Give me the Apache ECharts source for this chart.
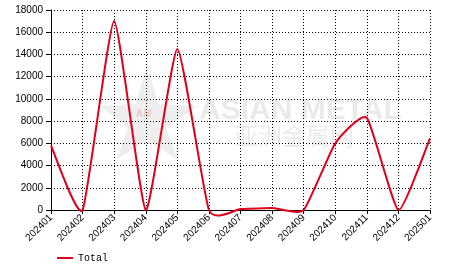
<!DOCTYPE html>
<html>
<head>
<meta charset="utf-8">
<style>html,body{margin:0;padding:0;background:#fff;}#c{width:466px;height:272px;}</style>
<script src="https://cdn.jsdelivr.net/npm/echarts@6/dist/echarts.min.js"></script>
</head>
<body>
<div id="c"></div>
<script>
var categories = ['202401','202402','202403','202404','202405','202406','202407','202408','202409','202410','202411','202412','202501'];
var totalValues = [5800, 0, 17000, 0, 14500, 0, 80, 180, 0, 6000, 8300, 0, 6450];
var seriesName = 'Total';
var yMin = 0, yMax = 18000, yStep = 2000;

var lineColor = '#e0001b';
var tension = 0.08;

function renderSpline(params, api) {
  if (params.dataIndex !== 0) return null;
  var pts = [];
  for (var j = 0; j < totalValues.length; j++) {
    pts.push(api.coord([j, totalValues[j]]));
  }
  var n = pts.length;
  var d = 'M' + pts[0][0] + ' ' + pts[0][1];
  for (var i = 0; i < n - 1; i++) {
    var p0 = pts[Math.max(i - 1, 0)], p1 = pts[i], p2 = pts[i + 1], p3 = pts[Math.min(i + 2, n - 1)];
    var c1x = p1[0] + (p2[0] - p0[0]) * tension, c1y = p1[1] + (p2[1] - p0[1]) * tension;
    var c2x = p2[0] - (p3[0] - p1[0]) * tension, c2y = p2[1] - (p3[1] - p1[1]) * tension;
    d += ' C' + c1x + ' ' + c1y + ' ' + c2x + ' ' + c2y + ' ' + p2[0] + ' ' + p2[1];
  }
  return {
    type: 'path',
    shape: {pathData: d},
    style: {fill: 'none', stroke: lineColor, lineWidth: 2, lineJoin: 'round'}
  };
}

var chart = echarts.init(document.getElementById('c'), null, {renderer:'canvas'});
var wmColor = 'rgba(200,200,200,0.38)';
chart.setOption({
  animation: false,
  backgroundColor: '#fff',
  grid: {left: 51, right: 36, top: 10, bottom: 62, containLabel: false},
  graphic: [
    {type:'polygon', z: 0, silent:true, shape:{points:[[147,63],[158,104],[198,106],[166,128],[178,160],[147,140],[116,160],[128,128],[100,106],[136,104]]}, style:{fill:'rgba(210,210,210,0.38)'}},
    {type:'text', z: 0, silent:true, left:136, top:109, style:{text:'AM', fill:'rgba(230,150,150,0.4)', font:'bold 10px Arial'}},
    {type:'text', z: 0, silent:true, left:199, top:96, style:{text:'ASIAN METAL', fill:wmColor, font:'bold 30px "Liberation Sans", Arial'}},
    {type:'text', z: 0, silent:true, left:234, top:124, style:{text:'亚洲金属网', fill:wmColor, font:'24px "Noto Sans CJK SC"'}}
  ],
  legend: {
    left: 52, bottom: 4, itemWidth: 16, itemHeight: 10, itemGap: 6,
    icon: 'path://M0,4 L16,4 L16,6 L0,6 Z',
    textStyle: {fontFamily: '"Liberation Mono", "DejaVu Sans Mono", monospace', fontSize: 10, color: '#000'},
    data: [{name: seriesName, itemStyle: {color: lineColor}}]
  },
  xAxis: {
    type: 'category', data: categories, boundaryGap: false,
    axisLine: {lineStyle: {color: '#000', width: 1}},
    axisTick: {show: true, alignWithLabel: true, length: 4, lineStyle:{color:'#000'}},
    axisLabel: {rotate: 45, fontSize: 10, fontFamily: '"Liberation Sans", Arial', color: '#000', margin: 6, interval: 0},
    splitLine: {show: true, lineStyle: {color: '#000', type: [1,2], width: 1}}
  },
  yAxis: {
    type: 'value', min: yMin, max: yMax, interval: yStep,
    axisLine: {show: true, lineStyle: {color: '#000'}},
    axisTick: {show: true, length: 5, lineStyle:{color:'#000'}},
    axisLabel: {fontSize: 10, fontFamily: '"Liberation Sans", Arial', color: '#000', margin: 8, formatter: function(v){return String(v);}},
    splitLine: {show: true, lineStyle: {color: '#000', type: [1,2], width: 1}}
  },
  series: [{
    name: seriesName, type: 'custom', renderItem: renderSpline, clip: false,
    data: totalValues.map(function(v, i){ return [i, v]; }),
    encode: {x: 0, y: 1},
    itemStyle: {color: lineColor}, z: 5
  }]
});
</script>
</body>
</html>
